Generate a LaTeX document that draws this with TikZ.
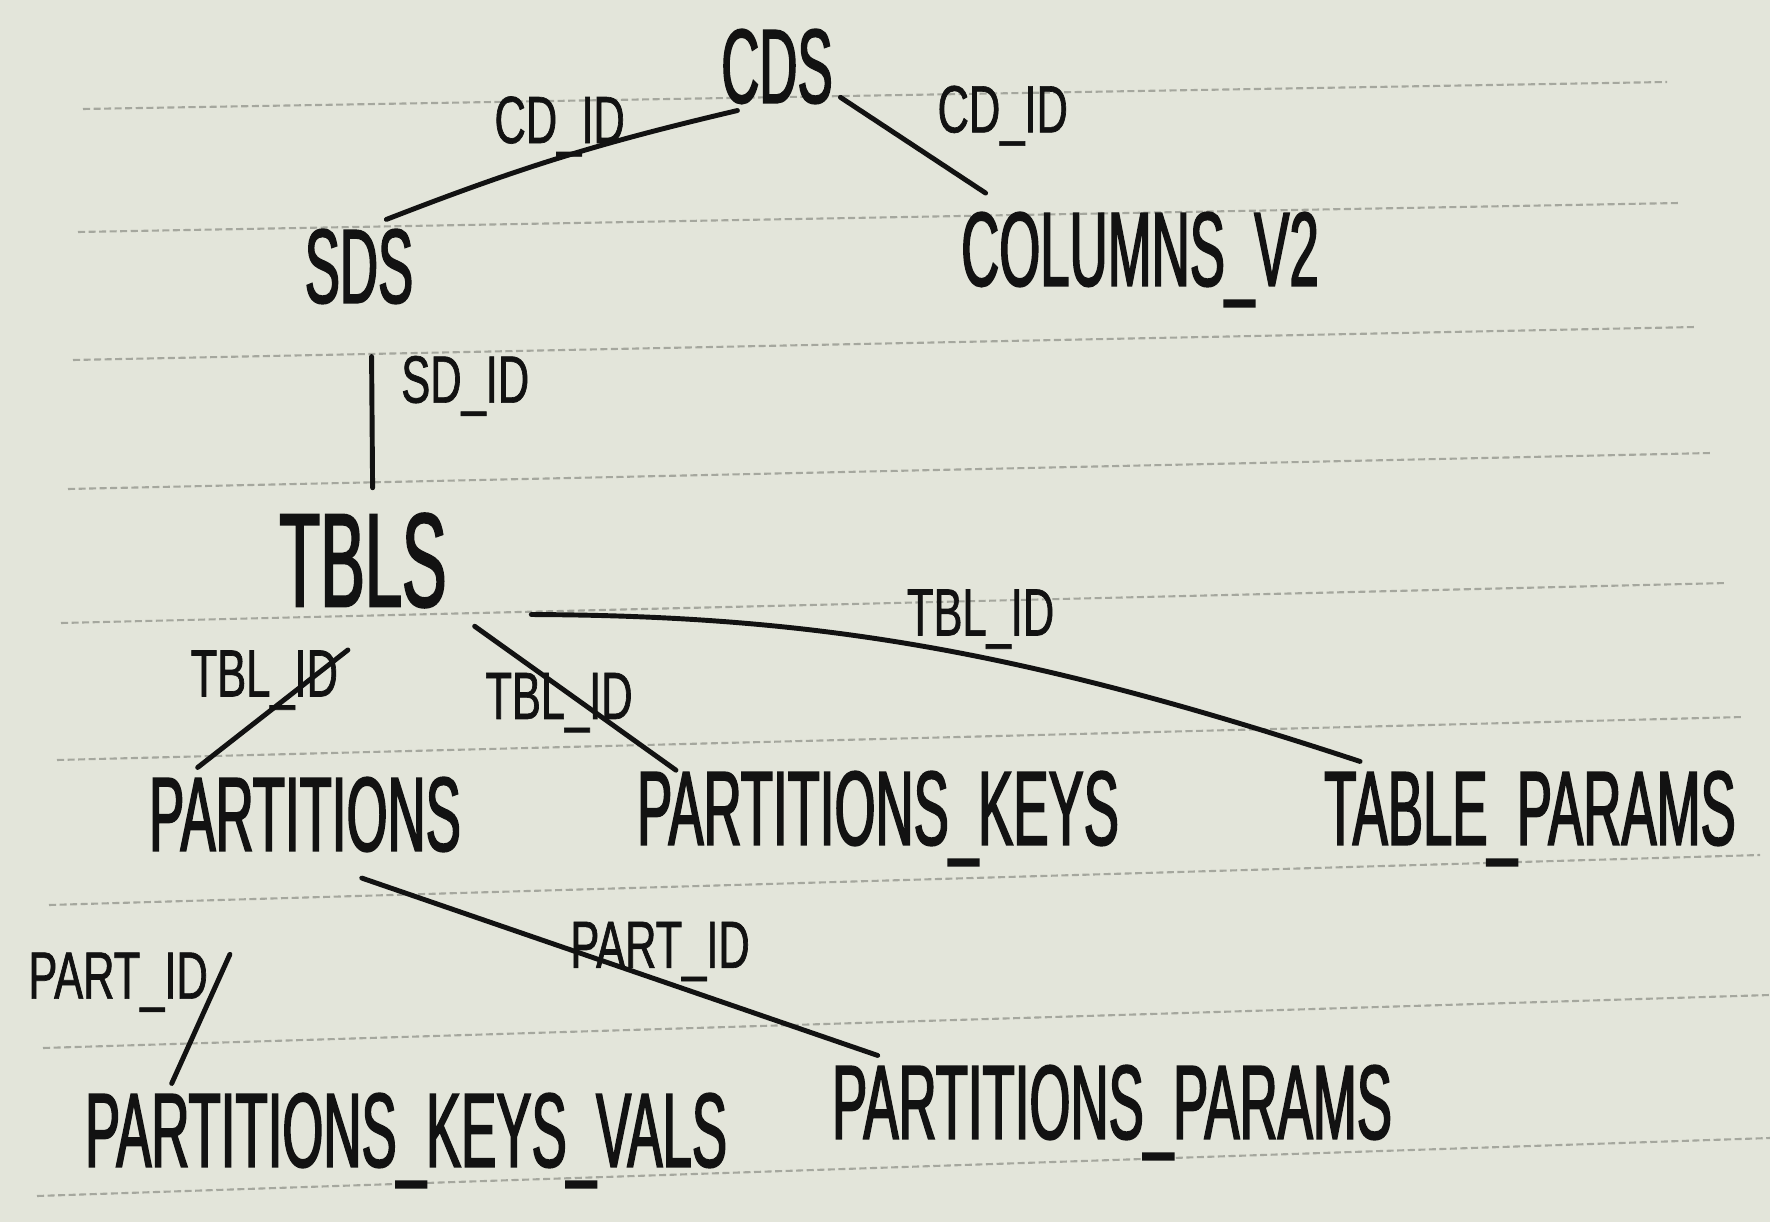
\documentclass[tikz,border=0pt]{standalone}
\usepackage{fontspec}
\newfontfamily\tblfont[FakeStretch=0.5,FakeBold=1.5]{Liberation Sans}
\newfontfamily\keyfont[FakeStretch=0.65,FakeBold=1]{Liberation Sans}
\definecolor{paper}{RGB}{227,229,218}
\definecolor{ruling}{RGB}{165,167,158}
\definecolor{ink}{RGB}{18,18,18}

\begin{document}
\begin{tikzpicture}
[x=0.01cm,y=-0.01cm,%
  every node/.style={text=ink},%
  tbl/.style={font=\tblfont\fontsize{30}{30}\selectfont,inner sep=2pt,text height=21.5pt,text depth=0pt},%
  key/.style={font=\keyfont\fontsize{19}{19}\selectfont,inner sep=2pt},%
  link/.style={draw=ink,line width=1.4pt,line cap=round},%
  ruled/.style={draw=ruling,line width=0.6pt,dash pattern=on 2pt off 1pt}]
\fill[paper] (0,0) rectangle (1770,1222);
\useasboundingbox (0,0) rectangle (1770,1222);
% lines of the notebook page
\foreach \xa/\ya/\xb/\yb in {83/109/1667/82, 78/232/1680/203, 73/360/1696/327,
  68/489/1712/453, 61/623/1727/583, 57/760/1743/717, 49/905/1760/855,
  43/1048/1770/995, 37/1196/1770/1138}
  \draw[ruled] (\xa,\ya) -- (\xb,\yb);
% tables
\node[tbl] (cds) at (777,65) {CDS};
\node[tbl] (sds) at (359,265) {SDS};
\node[tbl] (cols) at (1140,248) {COLUMNS\_V2};
\node[tbl,font=\tblfont\fontsize{38}{38}\selectfont,text height=27pt] (tbls) at (363,559) {TBLS};
\node[tbl] (parts) at (305,813) {PARTITIONS};
\node[tbl] (pkeys) at (878,807) {PARTITIONS\_KEYS};
\node[tbl] (tparams) at (1530,807) {TABLE\_PARAMS};
\node[tbl] (pkv) at (406,1129) {PARTITIONS\_KEYS\_VALS};
\node[tbl] (pparams) at (1112,1101) {PARTITIONS\_PARAMS};
% keys
\path
(cds.229) edge[link,bend right=4] node[key,above,yshift=-0.08cm] {CD\_ID} (sds.59)
(cds.333) edge[link,shorten >=0.17cm] node[key,pos=0.55,above right] {CD\_ID} (cols.162)
(sds.-75) edge[link,shorten <=0.46cm,shorten >=0.16cm] node[key,pos=0.39,right=0.2cm] {SD\_ID} (tbls.80)
(tbls.299) edge[link,shorten <=0.58cm] node[key,pos=0.43,xshift=-0.45cm] {TBL\_ID} (parts.157)
(tbls.330) edge[link,shorten <=0.25cm,shorten >=-0.15cm] node[key,pos=0.5,yshift=-0.16cm] {TBL\_ID} (pkeys.168)
(tbls.south east) edge[link,bend left=9,shorten <=0.77cm] node[key,pos=0.58,above] {TBL\_ID} (tparams.165)
(parts.south) edge[link,shorten <=0.6cm] node[key,pos=0.62,above,yshift=-0.1cm] {PART\_ID} (pparams.169)
(parts.235) edge[link,shorten <=1.05cm] node[key,pos=0.55,left] {PART\_ID} (pkv.169);
\end{tikzpicture}
\end{document}
